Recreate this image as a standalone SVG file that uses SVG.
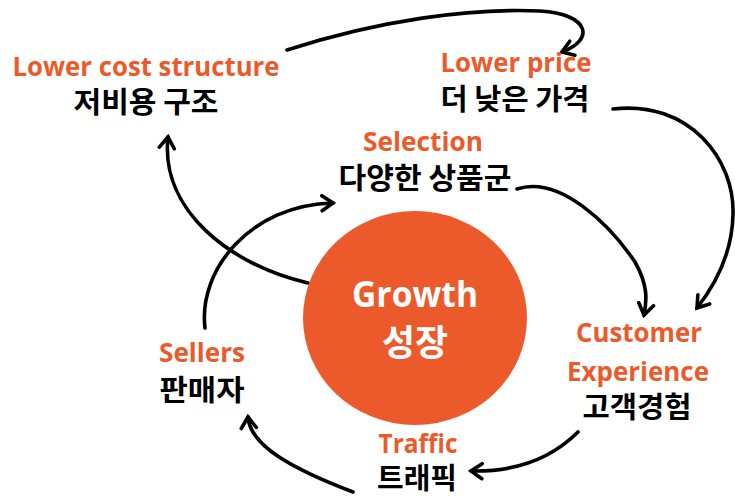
<svg xmlns="http://www.w3.org/2000/svg" width="735" height="498" viewBox="0 0 735 498">
  <style>
    .en { font-family: "Open Sans", "Liberation Sans", sans-serif; font-weight: 700; font-size: 27px; fill: #EC5A2B; text-anchor: middle; }
    .ko { font-family: "Noto Sans CJK KR", "Noto Sans", sans-serif; font-weight: 700; font-size: 29px; fill: #000; text-anchor: middle; }
    .hub-en { font-family: "Open Sans", "Liberation Sans", sans-serif; font-weight: 700; font-size: 35px; fill: #fff; text-anchor: middle; }
    .hub-ko { font-family: "Noto Sans CJK KR", "Noto Sans", sans-serif; font-weight: 700; font-size: 36px; fill: #fff; text-anchor: middle; }
    .edge { fill: none; stroke: #000; stroke-width: 3.6; stroke-linecap: round; marker-end: url(#arrow); }
  </style>
  <defs>
    <marker id="arrow" markerUnits="userSpaceOnUse" viewBox="-14 -10 17 20" refX="0" refY="0" markerWidth="17" markerHeight="20" orient="auto">
      <path d="M-11,-7.5 L0,0 L-11,7.5" fill="none" stroke="#000" stroke-width="3.6" stroke-linecap="round" stroke-linejoin="miter"/>
    </marker>
  </defs>
  <rect width="735" height="498" fill="#fff"/>

  <g id="connectors">
    <path class="edge" d="M287,50 C380,20 470,8 540,11 C590,14 595,40 562,52"/>
    <path class="edge" d="M613,109 C690,100 735,160 733,215 C732,255 715,285 697,308"/>
    <path class="edge" d="M517,189 C560,175 610,225 635,262 C648,285 647,300 644,315"/>
    <path class="edge" d="M578,432 C555,455 520,472 471,471"/>
    <path class="edge" d="M353,492 C290,468 250,445 248,417"/>
    <path class="edge" d="M205,328 C198,270 250,205 333,203"/>
    <path class="edge" d="M308,283 C230,265 160,210 168,137"/>
  </g>

  <g id="growth">
    <ellipse cx="415" cy="318" rx="112" ry="107" fill="#EC5A2B"/>
    <text class="hub-en" x="415" y="307" textLength="126" lengthAdjust="spacingAndGlyphs">Growth</text>
    <text class="hub-ko" x="415" y="356" textLength="66" lengthAdjust="spacingAndGlyphs">성장</text>
  </g>

  <g id="lower-cost-structure">
    <text class="en" x="146" y="76" textLength="267" lengthAdjust="spacingAndGlyphs">Lower cost structure</text>
    <text class="ko" x="146" y="113" textLength="145" lengthAdjust="spacingAndGlyphs">저비용 구조</text>
  </g>

  <g id="lower-price">
    <text class="en" x="516" y="72" textLength="151" lengthAdjust="spacingAndGlyphs">Lower price</text>
    <text class="ko" x="515" y="110" textLength="149" lengthAdjust="spacingAndGlyphs">더 낮은 가격</text>
  </g>

  <g id="selection">
    <text class="en" x="423" y="151" textLength="120" lengthAdjust="spacingAndGlyphs">Selection</text>
    <text class="ko" x="425" y="189" textLength="173" lengthAdjust="spacingAndGlyphs">다양한 상품군</text>
  </g>

  <g id="sellers">
    <text class="en" x="202" y="362" textLength="86" lengthAdjust="spacingAndGlyphs">Sellers</text>
    <text class="ko" x="202" y="401" textLength="85" lengthAdjust="spacingAndGlyphs">판매자</text>
  </g>

  <g id="customer-experience">
    <text class="en" x="639" y="342" textLength="126" lengthAdjust="spacingAndGlyphs">Customer</text>
    <text class="en" x="638" y="381" textLength="142" lengthAdjust="spacingAndGlyphs">Experience</text>
    <text class="ko" x="637" y="418" textLength="109" lengthAdjust="spacingAndGlyphs">고객경험</text>
  </g>

  <g id="traffic">
    <text class="en" x="418" y="453" textLength="79" lengthAdjust="spacingAndGlyphs">Traffic</text>
    <text class="ko" x="417" y="489" textLength="80" lengthAdjust="spacingAndGlyphs">트래픽</text>
  </g>
</svg>
